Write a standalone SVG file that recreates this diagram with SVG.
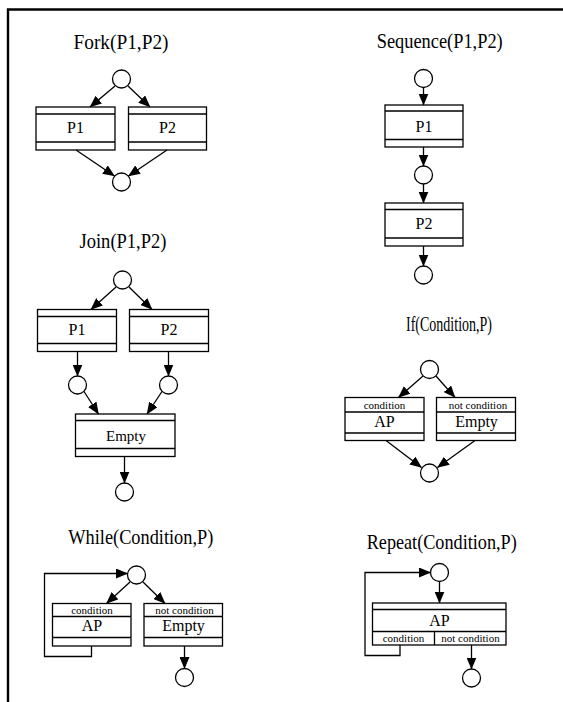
<svg xmlns="http://www.w3.org/2000/svg" width="563" height="702" viewBox="0 0 563 702">
  <style>
    text { font-family: "Liberation Serif", "Times New Roman", "DejaVu Serif", serif; fill: #000; text-anchor: middle; }
    .title { font-size: 21px; }
    .lbl { font-size: 16px; }
    .big { font-size: 16px; }
    .small { font-size: 11px; }
    .box { fill: #fff; stroke: #000; stroke-width: 1.3; }
    .band { fill: none; stroke: #000; stroke-width: 1.3; }
    .place { fill: #fff; stroke: #000; stroke-width: 1.3; }
    .edge { fill: none; stroke: #000; stroke-width: 1.3; marker-end: url(#head); }
  </style>
  <defs>
    <marker id="head" markerUnits="userSpaceOnUse" markerWidth="12" markerHeight="10" refX="11.5" refY="5" orient="auto">
      <path d="M0,0 L12,5 L0,10 z" fill="#000"/>
    </marker>
  </defs>

  <rect width="563" height="702" fill="#fff"/>
  <!-- frame -->
  <path d="M8,702 V9.5 H563" fill="none" stroke="#000" stroke-width="2.4"/>

  <!-- Fork -->
  <g id="fork">
    <text class="title" x="121" y="49" textLength="95" lengthAdjust="spacingAndGlyphs">Fork(P1,P2)</text>
    <circle class="place" cx="121.5" cy="79" r="9"/>
    <rect class="box" x="36" y="107" width="79" height="43"/>
    <path class="band" d="M36,114 H115 M36,142 H115"/>
    <text class="lbl" x="75.5" y="133">P1</text>
    <rect class="box" x="128.5" y="107" width="78" height="43"/>
    <path class="band" d="M128.5,114 H206.5 M128.5,142 H206.5"/>
    <text class="lbl" x="167.5" y="133">P2</text>
    <circle class="place" cx="121.5" cy="182" r="9"/>
  </g>

  <!-- Sequence -->
  <g id="sequence">
    <text class="title" x="439.7" y="48" textLength="126" lengthAdjust="spacingAndGlyphs">Sequence(P1,P2)</text>
    <circle class="place" cx="423.5" cy="78.5" r="9"/>
    <rect class="box" x="385" y="105" width="78" height="42"/>
    <path class="band" d="M385,111 H463 M385,139.5 H463"/>
    <text class="lbl" x="424" y="131.5">P1</text>
    <circle class="place" cx="423.5" cy="175" r="9"/>
    <rect class="box" x="385" y="203" width="78" height="43"/>
    <path class="band" d="M385,209.5 H463 M385,238 H463"/>
    <text class="lbl" x="424" y="229">P2</text>
    <circle class="place" cx="423.5" cy="275" r="9"/>
  </g>

  <!-- Join -->
  <g id="join">
    <text class="title" x="123" y="248" textLength="87" lengthAdjust="spacingAndGlyphs">Join(P1,P2)</text>
    <circle class="place" cx="122.5" cy="280" r="9"/>
    <rect class="box" x="37.5" y="309.5" width="79" height="42"/>
    <path class="band" d="M37.5,316.5 H116.5 M37.5,343.5 H116.5"/>
    <text class="lbl" x="77" y="335">P1</text>
    <rect class="box" x="129.5" y="309.5" width="79" height="42"/>
    <path class="band" d="M129.5,316.5 H208.5 M129.5,343.5 H208.5"/>
    <text class="lbl" x="169" y="335">P2</text>
    <circle class="place" cx="77.5" cy="385" r="9"/>
    <circle class="place" cx="168.5" cy="385" r="9"/>
    <rect class="box" x="75.5" y="414" width="99.5" height="42.5"/>
    <path class="band" d="M75.5,420.5 H175 M75.5,448.5 H175"/>
    <text class="lbl" x="126" y="441" style="font-size:15px">Empty</text>
    <circle class="place" cx="124.5" cy="492" r="9"/>
  </g>

  <!-- If -->
  <g id="if">
    <text class="title" x="449" y="331" textLength="86" lengthAdjust="spacingAndGlyphs">If(Condition,P)</text>
    <circle class="place" cx="429.5" cy="369.5" r="9"/>
    <rect class="box" x="345" y="397.5" width="79" height="43"/>
    <path class="band" d="M345,412 H424 M345,433 H424"/>
    <text class="small" x="384.5" y="409">condition</text>
    <text class="big" x="384.5" y="427">AP</text>
    <rect class="box" x="436.5" y="397.5" width="79" height="43"/>
    <path class="band" d="M436.5,412 H515.5 M436.5,433 H515.5"/>
    <text class="small" x="478" y="409">not condition</text>
    <text class="big" x="476.5" y="427">Empty</text>
    <circle class="place" cx="429.5" cy="473" r="9"/>
  </g>

  <!-- While -->
  <g id="while">
    <text class="title" x="140.8" y="544" textLength="145" lengthAdjust="spacingAndGlyphs">While(Condition,P)</text>
    <circle class="place" cx="136.5" cy="575" r="9"/>
    <rect class="box" x="52.5" y="603.5" width="78.5" height="42.5"/>
    <path class="band" d="M52.5,616.5 H131 M52.5,637.5 H131"/>
    <text class="small" x="92" y="613.5">condition</text>
    <text class="big" x="92" y="631">AP</text>
    <rect class="box" x="144" y="603.5" width="78.5" height="42.5"/>
    <path class="band" d="M144,616.5 H222.5 M144,637.5 H222.5"/>
    <text class="small" x="184.5" y="613.5">not condition</text>
    <text class="big" x="183.5" y="631">Empty</text>
    <circle class="place" cx="184.5" cy="677.5" r="9"/>
  </g>

  <!-- Repeat -->
  <g id="repeat">
    <text class="title" x="441.7" y="549" textLength="150" lengthAdjust="spacingAndGlyphs">Repeat(Condition,P)</text>
    <circle class="place" cx="439.5" cy="572.5" r="9"/>
    <rect class="box" x="372.5" y="603" width="133.5" height="42"/>
    <path class="band" d="M372.5,609.5 H506 M372.5,631.5 H506 M434.5,631.5 V645"/>
    <text class="big" x="439.5" y="626">AP</text>
    <text class="small" x="403.5" y="642">condition</text>
    <text class="small" x="470.5" y="642">not condition</text>
    <circle class="place" cx="471.5" cy="678" r="9"/>
  </g>

  <!-- connectors -->
  <g id="connectors">
    <!-- Fork -->
    <path class="edge" d="M115,86 L90,107"/>
    <path class="edge" d="M128,86 L150,107"/>
    <path class="edge" d="M76,150 L114.5,176"/>
    <path class="edge" d="M167,150 L128.5,176"/>
    <!-- Sequence -->
    <path class="edge" d="M423.5,87.5 V105"/>
    <path class="edge" d="M423.5,147 V166"/>
    <path class="edge" d="M423.5,184 V203"/>
    <path class="edge" d="M423.5,246 V266"/>
    <!-- Join -->
    <path class="edge" d="M116,287 L91,309.5"/>
    <path class="edge" d="M129,287 L152,309.5"/>
    <path class="edge" d="M77.5,351.5 V376"/>
    <path class="edge" d="M168.5,351.5 V376"/>
    <path class="edge" d="M84,391.5 L98.5,414"/>
    <path class="edge" d="M162,391.5 L147,414"/>
    <path class="edge" d="M124.5,456.5 V483"/>
    <!-- If -->
    <path class="edge" d="M423,376 L398.5,397.5"/>
    <path class="edge" d="M436,376 L455,397.5"/>
    <path class="edge" d="M386,440.5 L421.5,467.5"/>
    <path class="edge" d="M475,440.5 L437.5,467.5"/>
    <!-- While -->
    <path class="edge" d="M91.5,646 V656.5 H44.5 V573.5 H127.5"/>
    <path class="edge" d="M130,582 L106.5,603.5"/>
    <path class="edge" d="M143,582 L165,603.5"/>
    <path class="edge" d="M184.5,646 V668.5"/>
    <!-- Repeat -->
    <path class="edge" d="M400,645 V655.5 H365 V572.5 H430.5"/>
    <path class="edge" d="M439.5,581.5 V603"/>
    <path class="edge" d="M471.5,645 V669"/>
  </g>
</svg>
